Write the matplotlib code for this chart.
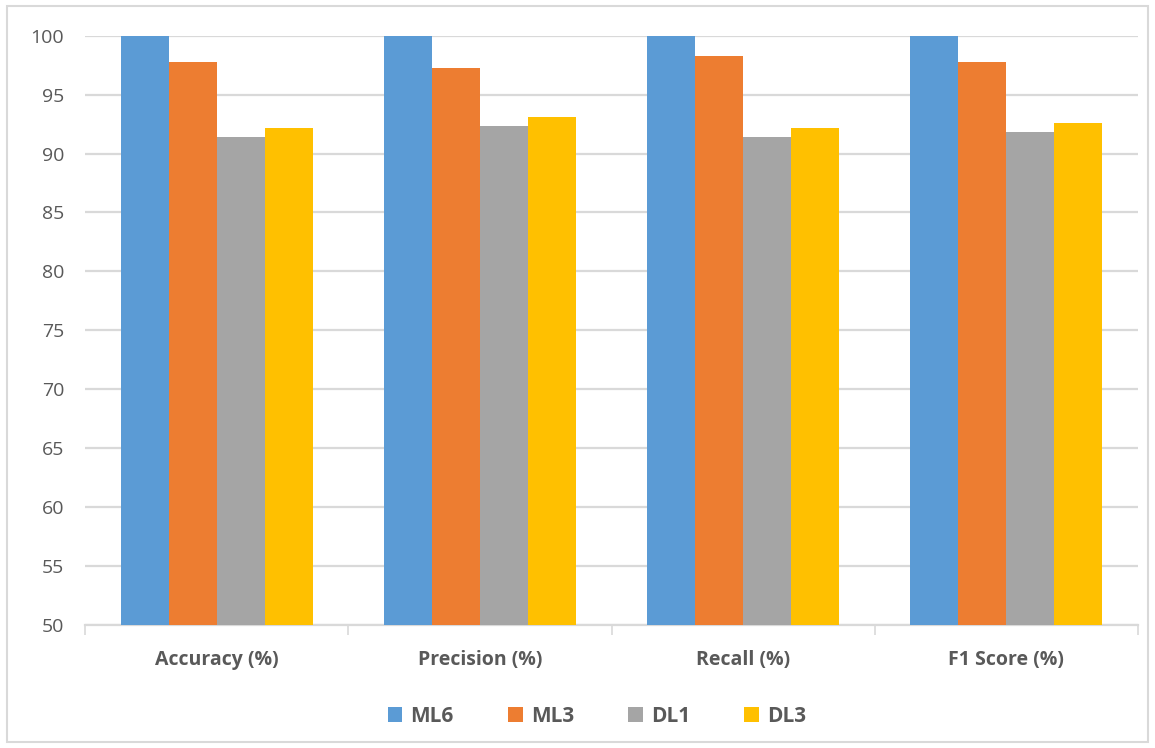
import numpy as np
import matplotlib
matplotlib.use("Agg")
import matplotlib.pyplot as plt
from matplotlib.patches import Rectangle

categories = ["Accuracy (%)", "Precision (%)", "Recall (%)", "F1 Score (%)"]
series_names = ["ML6", "ML3", "DL1", "DL3"]
ml6 = [100, 100, 100, 100]
ml3 = [97.8, 97.3, 98.3, 97.8]
dl1 = [91.4, 92.3, 91.4, 91.8]
dl3 = [92.2, 93.1, 92.2, 92.6]
y_ticks = [50, 55, 60, 65, 70, 75, 80, 85, 90, 95, 100]

colors = ["#5B9BD5", "#ED7D31", "#A5A5A5", "#FFC000"]
text_color = "#595959"
grid_color = "#D9D9D9"

plt.rcParams["font.family"] = ["Open Sans", "DejaVu Sans"]

fig = plt.figure(figsize=(11.55, 7.48), dpi=100)
ax = fig.add_axes([85 / 1155, 1 - 625 / 748, (1138 - 85) / 1155, (625 - 35.7) / 748])

x = np.arange(len(categories))
bar_w = 0.1825
values = [ml6, ml3, dl1, dl3]
for i, (name, vals) in enumerate(zip(series_names, values)):
    offset = (i - 1.5) * bar_w
    ax.bar(x + offset, np.array(vals) - 50, bottom=50, width=bar_w,
           color=colors[i], label=name, zorder=3)

ax.set_xlim(-0.5, len(categories) - 0.5)
ax.set_ylim(50, 100)
ax.set_yticks(y_ticks)
ax.set_yticklabels([str(t) for t in y_ticks], fontsize=14, color=text_color)
ax.yaxis.grid(True, color=grid_color, linewidth=1.6, zorder=0)
ax.tick_params(axis="y", length=0, pad=15)

# category labels centered, with ticks at category boundaries
ax.set_xticks(x)
ax.set_xticklabels(categories, fontsize=14, fontweight="bold", color=text_color)
ax.tick_params(axis="x", which="major", length=0, pad=18)
ax.set_xticks(np.arange(-0.5, len(categories)), minor=True)
ax.tick_params(axis="x", which="minor", length=7, color=grid_color, width=1.2)

for side in ["top", "right", "left"]:
    ax.spines[side].set_visible(False)
ax.spines["bottom"].set_color(grid_color)
ax.spines["bottom"].set_linewidth(1.6)

leg = fig.legend(loc="center", bbox_to_anchor=(597 / 1155, 1 - 716 / 748), ncol=4,
                 frameon=False, handlelength=0.7, handleheight=0.7,
                 handletextpad=0.4, columnspacing=2.6,
                 prop={"size": 15, "weight": "bold"})
for t in leg.get_texts():
    t.set_color(text_color)

# chart frame
fig.patches.append(Rectangle((7 / 1155, 1 - 742 / 748), (1148 - 7) / 1155, (742 - 6) / 748,
                             transform=fig.transFigure, fill=False,
                             edgecolor=grid_color, linewidth=1.5))

fig.savefig("out.png", dpi=100)
